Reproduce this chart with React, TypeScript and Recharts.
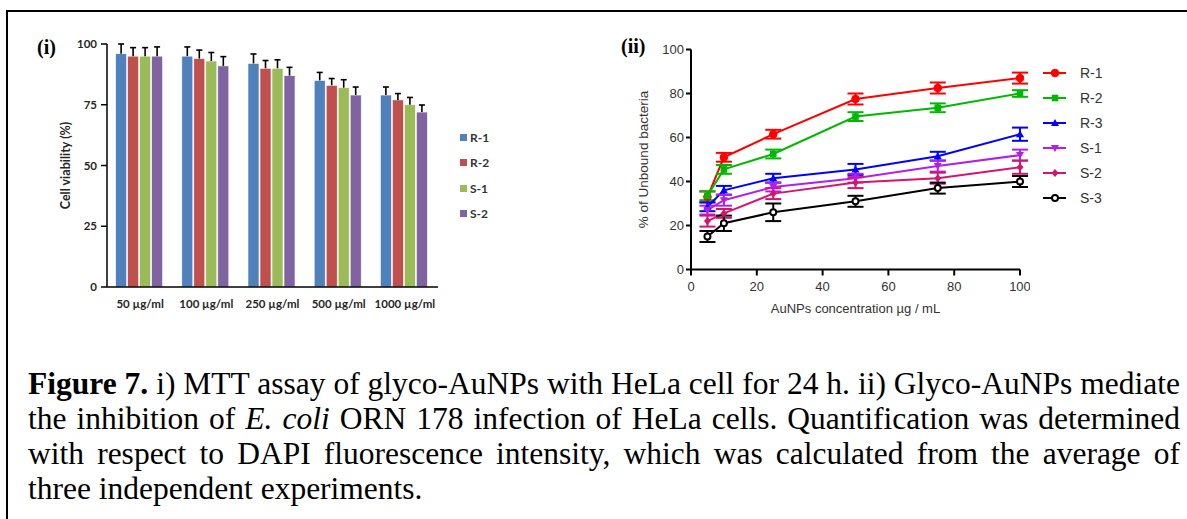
import React from 'react';
import { BarChart, Bar, XAxis, YAxis, LineChart, Line, ErrorBar } from 'recharts';

// ---------- Panel (i) data ----------
const doseLabels = ['50 µg/ml', '100 µg/ml', '250 µg/ml', '500 µg/ml', '1000 µg/ml'];
const barSeries = ['R-1', 'R-2', 'S-1', 'S-2'];
const barColors = ['#4F81BD', '#C0504D', '#9BBB59', '#8064A2'];
const viabR1 = [96, 95, 92, 85, 79];
const viabR2 = [95, 94, 90, 83, 77];
const viabS1 = [95, 93, 90, 82, 75];
const viabS2 = [95, 91, 87, 79, 72];
const errR1 = [4, 3.8, 3.9, 3.3, 3.3];
const errR2 = [3.5, 3.5, 3.2, 2.8, 2.6];
const errS1 = [3.5, 3.5, 3.5, 3.3, 3];
const errS2 = [3.8, 3.8, 3.4, 3.3, 2.9];
const viabTicks = [0, 25, 50, 75, 100];

// ---------- Panel (ii) data ----------
const conc = [5, 10, 25, 50, 75, 100];
const lineSeries = ['R-1', 'R-2', 'R-3', 'S-1', 'S-2', 'S-3'];
const lineColors = ['#FF0000', '#00B800', '#0000FF', '#B21FE8', '#D4146E', '#000000'];
const lineMarkers = ['circle', 'square', 'triangle', 'triangleDown', 'diamond', 'open'];
const unbR1 = [33, 51, 61.5, 77.5, 82.5, 87];
const unbR2 = [33.5, 45.5, 52.5, 69.5, 73.5, 80];
const unbR3 = [28.5, 36, 41.5, 45.5, 51.5, 61.5];
const unbS1 = [27, 31.5, 37.5, 41.5, 47, 52];
const unbS2 = [22, 25.5, 34.5, 39.5, 41.5, 46.5];
const unbS3 = [15, 21, 26, 31, 37, 40];
const eR1 = [2.5, 2, 2, 2.5, 2.5, 2.5];
const eR2 = [2, 2, 2, 2, 2, 1.5];
const eR3 = [2, 2, 2, 2.5, 2, 3];
const eS1 = [2, 2.5, 2, 2, 2.5, 2.5];
const eS2 = [2.5, 2, 2.5, 2.5, 2.5, 3];
const eS3 = [2.5, 3.5, 4, 2.5, 2.5, 2.5];
const unbTicks = [0, 20, 40, 60, 80, 100];
const concTicks = [0, 20, 40, 60, 80, 100];
const boundaryTicks = [0, 1, 2, 3, 4, 5];

const barValues = [viabR1, viabR2, viabS1, viabS2];
const barErrs = [errR1, errR2, errS1, errS2];
const barData = doseLabels.map((d, i) => {
  const row: any = { dose: d };
  barSeries.forEach((s, k) => {
    row[s] = barValues[k][i];
    row[s + '_err'] = barErrs[k][i];
  });
  return row;
});

const lineValues = [unbR1, unbR2, unbR3, unbS1, unbS2, unbS3];
const lineErrs = [eR1, eR2, eR3, eS1, eS2, eS3];
const lineData = conc.map((c, i) => {
  const row: any = { c };
  lineSeries.forEach((s, k) => {
    row[s] = lineValues[k][i];
    row[s + '_err'] = lineErrs[k][i];
  });
  return row;
});

const makeBarShape = (errKey: string) => (props: any) => {
  const { x, y, width, height, fill, payload, value } = props;
  const v = Array.isArray(value) ? value[1] - value[0] : value;
  const e = payload[errKey];
  const ePx = v ? (height * e) / v : 0;
  const cx = x + width / 2;
  return (
    <g>
      <rect x={x} y={y} width={width} height={height} fill={fill} stroke="#ffffff" strokeWidth={0.6} />
      <line x1={cx} x2={cx} y1={y} y2={y - ePx} stroke="#000" strokeWidth={1.6} />
      <line x1={cx - 3} x2={cx + 3} y1={y - ePx} y2={y - ePx} stroke="#000" strokeWidth={1.6} />
    </g>
  );
};

const Marker = ({ cx, cy, type, color }: any) => {
  if (cx == null || cy == null) return null;
  switch (type) {
    case 'circle':
      return <circle cx={cx} cy={cy} r={3.8} fill={color} stroke={color} />;
    case 'square':
      return <rect x={cx - 3.3} y={cy - 3.3} width={6.6} height={6.6} fill={color} />;
    case 'triangle':
      return <path d={`M${cx},${cy - 4} L${cx + 4},${cy + 3} L${cx - 4},${cy + 3} Z`} fill={color} />;
    case 'triangleDown':
      return <path d={`M${cx},${cy + 4} L${cx + 4},${cy - 3} L${cx - 4},${cy - 3} Z`} fill={color} />;
    case 'diamond':
      return <path d={`M${cx},${cy - 4} L${cx + 3.5},${cy} L${cx},${cy + 4} L${cx - 3.5},${cy} Z`} fill={color} />;
    default:
      return <circle cx={cx} cy={cy} r={3} fill="#ffffff" stroke={color} strokeWidth={2} />;
  }
};

const leftFont = 'Lato, "Open Sans", sans-serif';
const rightFont = '"Liberation Sans", Arial, sans-serif';
const serif = '"Liberation Serif", "Times New Roman", serif';

const captionLineStyle: React.CSSProperties = {
  width: 1152,
  height: 35,
  whiteSpace: 'nowrap',
  textAlign: 'justify',
  textAlignLast: 'justify' as any,
};

export default function App() {
  return (
    <div
      style={{
        position: 'absolute',
        left: 0,
        top: 0,
        width: 1187,
        height: 519,
        background: '#ffffff',
        overflow: 'hidden',
      }}
    >
      {/* frame */}
      <div style={{ position: 'absolute', left: 6, top: 10, width: 1181, height: 509, borderTop: '2px solid #000', borderLeft: '2px solid #000' }} />

      {/* panel labels */}
      <div style={{ position: 'absolute', left: 37, top: 35, fontFamily: serif, fontWeight: 700, fontSize: 20, lineHeight: '24px' }}>(i)</div>
      <div style={{ position: 'absolute', left: 621, top: 34, fontFamily: serif, fontWeight: 700, fontSize: 20, lineHeight: '24px' }}>(ii)</div>

      {/* Panel (i) */}
      <div style={{ position: 'absolute', left: 40, top: 30 }}>
        <BarChart
          width={410}
          height={300}
          data={barData}
          margin={{ top: 14, right: 12, bottom: 13, left: 0 }}
          barCategoryGap="13%"
          barGap={1}
        >
          <XAxis
            xAxisId="bounds"
            type="number"
            domain={[0, 5]}
            ticks={boundaryTicks}
            height={0}
            axisLine={false}
            tick={false}
            tickSize={6}
            tickLine={{ stroke: '#000', strokeWidth: 1.5 }}
          />
          <XAxis
            dataKey="dose"
            height={30}
            axisLine={{ stroke: '#000', strokeWidth: 1.5 }}
            tickLine={false}
            tickSize={0}
            tickMargin={13}
            interval={0}
            tick={{ fill: '#262626', fontSize: 11.5, fontWeight: 700, fontFamily: leftFont }}
          />
          <YAxis
            domain={[0, 100]}
            ticks={viabTicks}
            width={67}
            axisLine={{ stroke: '#000', strokeWidth: 1.5 }}
            tickLine={{ stroke: '#000', strokeWidth: 1.5 }}
            tickSize={6}
            tickMargin={4}
            tick={{ fill: '#262626', fontSize: 11.5, fontWeight: 700, fontFamily: leftFont }}
            label={{
              value: 'Cell viability (%)',
              angle: -90,
              position: 'insideLeft',
              offset: 26,
              style: { textAnchor: 'middle', fill: '#262626', fontSize: 12.5, fontWeight: 700, fontFamily: leftFont },
            }}
          />
          {barSeries.map((s, k) => (
            <Bar key={s} dataKey={s} fill={barColors[k]} isAnimationActive={false} shape={makeBarShape(s + '_err')} />
          ))}
        </BarChart>
      </div>

      {/* Panel (i) legend */}
      {barSeries.map((s, k) => (
        <div key={s} style={{ position: 'absolute', left: 460, top: 137 + k * 25.6 - 8, height: 16, display: 'flex', alignItems: 'center' }}>
          <div style={{ width: 7, height: 7, background: barColors[k], marginRight: 3 }} />
          <span style={{ fontFamily: leftFont, fontWeight: 700, fontSize: 12, color: '#333' }}>{s}</span>
        </div>
      ))}

      {/* Panel (ii) */}
      <div style={{ position: 'absolute', left: 600, top: 30 }}>
        <LineChart width={430} height={288} data={lineData} margin={{ top: 19.5, right: 10, bottom: 0.5, left: 0 }}>
          <XAxis
            dataKey="c"
            type="number"
            domain={[0, 100]}
            ticks={concTicks}
            height={48}
            axisLine={{ stroke: '#000', strokeWidth: 2 }}
            tickLine={{ stroke: '#000', strokeWidth: 2 }}
            tickSize={6}
            tickMargin={6}
            tick={{ fill: '#333', fontSize: 13, fontFamily: rightFont }}
            label={{
              value: 'AuNPs concentration µg / mL',
              position: 'insideBottom',
              offset: 5,
              style: { fill: '#333', fontSize: 13, fontFamily: rightFont },
            }}
          />
          <YAxis
            domain={[0, 100]}
            ticks={unbTicks}
            width={91}
            axisLine={{ stroke: '#000', strokeWidth: 2 }}
            tickLine={{ stroke: '#000', strokeWidth: 2 }}
            tickSize={5}
            tickMargin={2}
            tick={{ fill: '#333', fontSize: 13, fontFamily: rightFont }}
            label={{
              value: '% of Unbound bacteria',
              angle: -90,
              position: 'insideLeft',
              offset: 43,
              style: { textAnchor: 'middle', fill: '#333', fontSize: 13.5, fontFamily: rightFont },
            }}
          />
          {lineSeries.map((s, k) => (
            <Line
              key={s}
              dataKey={s}
              stroke={lineColors[k]}
              strokeWidth={2}
              isAnimationActive={false}
              dot={(p: any) => <Marker key={s + '-' + p.index} cx={p.cx} cy={p.cy} type={lineMarkers[k]} color={lineColors[k]} />}
              activeDot={false}
            >
              <ErrorBar dataKey={s + '_err'} direction="y" width={8} stroke={lineColors[k]} strokeWidth={2} isAnimationActive={false} />
            </Line>
          ))}
        </LineChart>
      </div>

      {/* Panel (ii) legend */}
      {lineSeries.map((s, k) => (
        <div key={s} style={{ position: 'absolute', left: 1043, top: 72.7 + k * 25.1 - 10, height: 20, display: 'flex', alignItems: 'center' }}>
          <svg width={24} height={20} style={{ display: 'block' }}>
            <line x1={0} x2={23} y1={10} y2={10} stroke={lineColors[k]} strokeWidth={2} />
            <Marker cx={12} cy={10} type={lineMarkers[k]} color={lineColors[k]} />
          </svg>
          <span style={{ marginLeft: 13, fontFamily: rightFont, fontSize: 14, color: '#333' }}>{s}</span>
        </div>
      ))}

      {/* caption */}
      <div
        style={{
          position: 'absolute',
          left: 28,
          top: 366,
          width: 1152,
          fontFamily: serif,
          fontSize: 31.5,
          lineHeight: '35px',
          color: '#000',
        }}
      >
        <div style={captionLineStyle}>
          <b>Figure 7.</b> i) MTT assay of glyco-AuNPs with HeLa cell for 24 h. ii) Glyco-AuNPs mediate
        </div>
        <div style={captionLineStyle}>
          the inhibition of <i>E. coli</i> ORN 178 infection of HeLa cells. Quantification was determined
        </div>
        <div style={captionLineStyle}>
          with respect to DAPI fluorescence intensity, which was calculated from the average of
        </div>
        <div style={{ width: 1152, height: 35, whiteSpace: 'nowrap' }}>three independent experiments.</div>
      </div>
    </div>
  );
}
